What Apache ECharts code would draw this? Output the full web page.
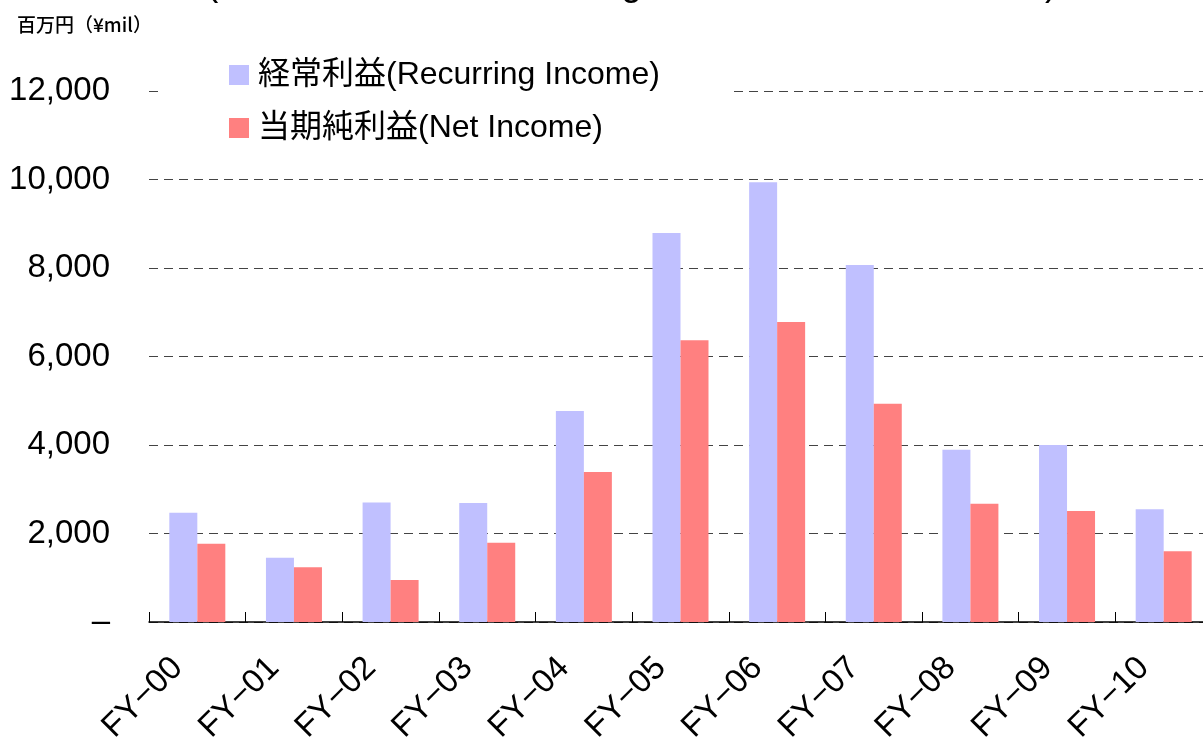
<!DOCTYPE html>
<html>
<head>
<meta charset="utf-8">
<script src="https://cdn.jsdelivr.net/npm/echarts@6/dist/echarts.min.js"></script>
<style>
html,body{margin:0;padding:0;background:#fff;}
#chart{width:1203px;height:738px;}
</style>
</head>
<body>
<div id="chart"></div>
<script>
var categories = ['FY−00','FY−01','FY−02','FY−03','FY−04','FY−05','FY−06','FY−07','FY−08','FY−09','FY−10'];
var recurringIncome = [2470, 1450, 2700, 2690, 4770, 8790, 9940, 8070, 3890, 4000, 2550];
var netIncome = [1770, 1240, 950, 1790, 3390, 6370, 6780, 4930, 2670, 2510, 1600];
var yTicks = {min: 0, max: 12000, interval: 2000};
var seriesNames = ['経常利益(Recurring Income)', '当期純利益(Net Income)'];
var titleText = '(Performance of Recurring Income and Net Income)';
var unitText = '百万円（¥mil）';

var FONT = '"Liberation Sans", Arial, "Noto Sans CJK JP", sans-serif';
var chart = echarts.init(document.getElementById('chart'), null, {renderer: 'canvas'});
chart.setOption({
  animation: false,
  backgroundColor: '#fff',
  graphic: [
    {type: 'text', left: 206, top: -34, style: {text: titleText, font: '37px ' + FONT, fill: '#000'}},
    {type: 'text', left: 17, top: 15, style: {text: unitText, font: '500 19px "Noto Sans CJK JP", sans-serif', fill: '#000'}}
  ],
  legend: {
    orient: 'vertical',
    left: 158,
    top: 49,
    padding: [10, 74, 10, 71],
    backgroundColor: '#fff',
    itemWidth: 20,
    itemHeight: 20,
    itemGap: 21,
    icon: 'rect',
    textStyle: {fontSize: 32, fontFamily: FONT, color: '#000', padding: [0, 0, 0, 4]},
    data: seriesNames
  },
  grid: {left: 149, right: -9, top: 91, bottom: 116, outerBoundsMode: 'none'},
  xAxis: {
    type: 'category',
    data: categories,
    axisLine: {lineStyle: {color: '#000', width: 1.5}},
    axisTick: {show: true, inside: true, length: 10, lineStyle: {color: '#000'}},
    axisLabel: {rotate: 45, fontSize: 33, fontFamily: FONT, color: '#000', margin: 21, padding: [0, 28, 0, 0], interval: 0}
  },
  yAxis: {
    type: 'value',
    min: yTicks.min, max: yTicks.max, interval: yTicks.interval,
    axisLine: {show: false},
    axisTick: {show: false},
    splitLine: {lineStyle: {color: '#444', width: 1, type: [9, 6]}},
    axisLabel: {
      fontSize: 33, fontFamily: FONT, color: '#000', margin: 39,
      formatter: function (v) { return v === 0 ? '–' : String(v).replace(/\B(?=(\d{3})+(?!\d))/g, ','); }
    }
  },
  series: [
    {name: seriesNames[0], type: 'bar', data: recurringIncome, barWidth: 28, barGap: '0%', itemStyle: {color: '#C0C0FF'}},
    {name: seriesNames[1], type: 'bar', data: netIncome, barWidth: 28, barGap: '0%', itemStyle: {color: '#FF8080'}}
  ]
});
</script>
</body>
</html>
